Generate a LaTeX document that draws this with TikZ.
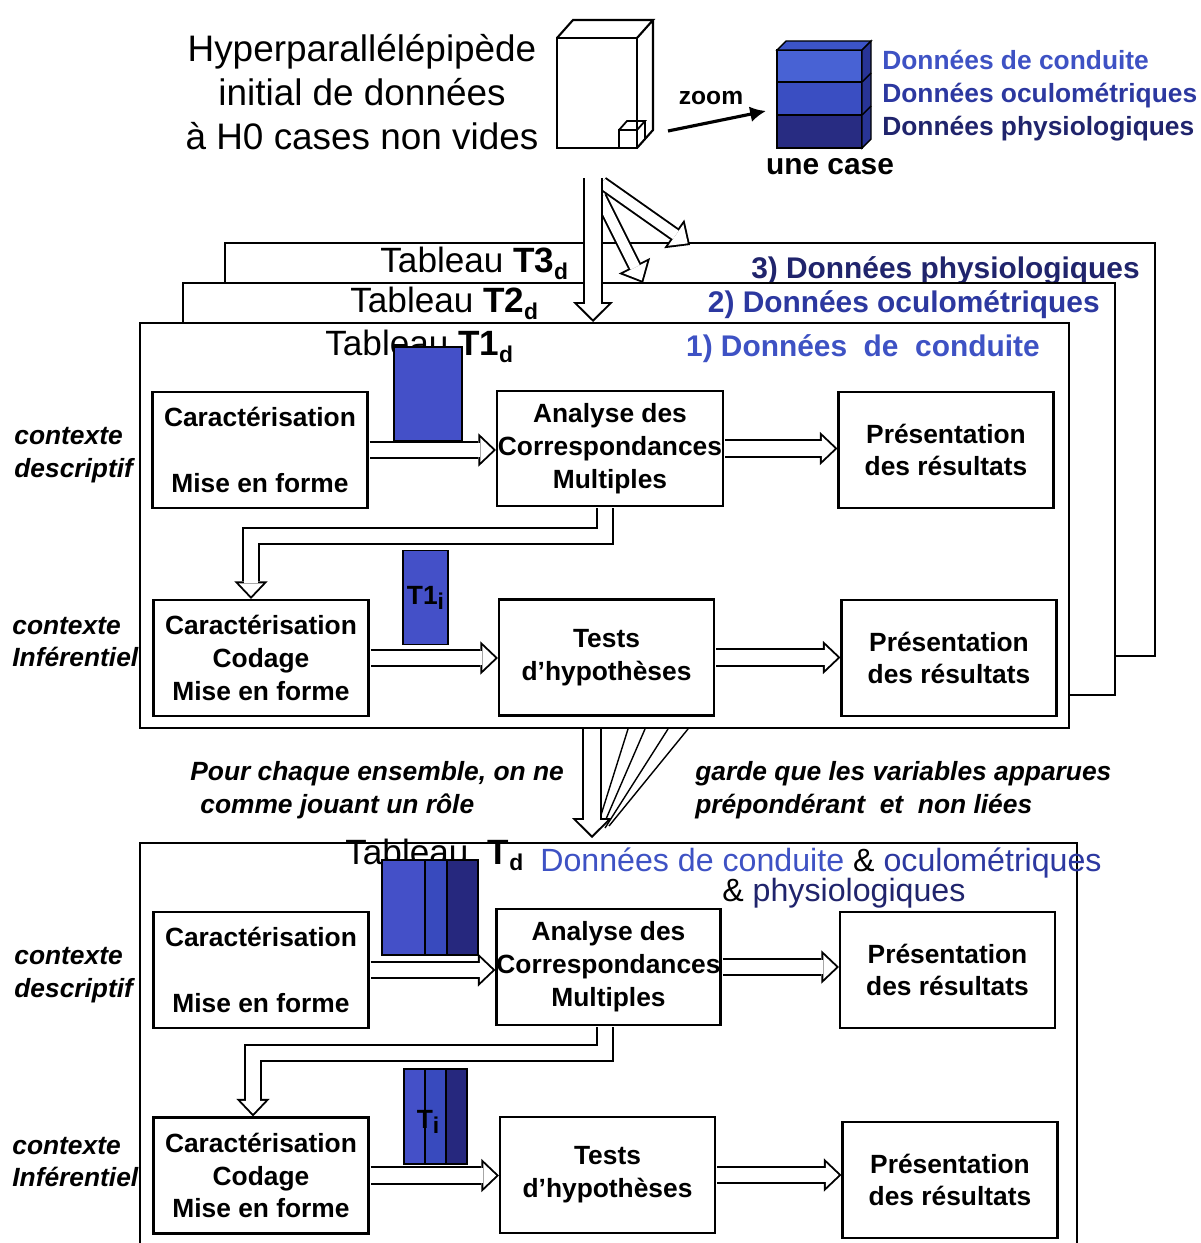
\documentclass[tikz,border=0pt]{standalone}
\usepackage{fontspec}
\setmainfont{Liberation Sans}
\usetikzlibrary{arrows.meta}

\definecolor{conduite}{RGB}{62,82,196}
\definecolor{oculo}{RGB}{44,56,160}
\definecolor{physio}{RGB}{32,36,108}
\definecolor{layerA}{RGB}{72,98,212}
\definecolor{layerB}{RGB}{58,78,194}
\definecolor{layerC}{RGB}{40,44,130}
\definecolor{cubetop}{RGB}{60,84,200}
\definecolor{cubeside}{RGB}{40,52,150}
\definecolor{tabA}{RGB}{68,80,200}
\definecolor{tabB}{RGB}{56,74,190}
\definecolor{tabC}{RGB}{38,40,126}

\newcommand\setfs[2]{\fontsize{#1}{#2}\selectfont}
\newcommand\subd[1]{\raisebox{-0.35ex}{\setfs{13}{13}\bfseries #1}}

\begin{document}
\begin{tikzpicture}[
    x=0.02cm, y=-0.02cm,
    box/.style={draw, line width=1.2pt, fill=white, align=center, inner sep=0pt,
        font=\setfs{15}{18.7}\bfseries, minimum width=4.3cm, minimum height=2.32cm},
    panel/.style={draw, line width=1.2pt, fill=white},
    tab/.style={anchor=base west, inner sep=0pt, font=\setfs{20}{24}},
    datum/.style={anchor=base east, inner sep=0pt, font=\setfs{17}{20}\bfseries},
    legend/.style={anchor=base west, inner sep=0pt, font=\setfs{15}{18}\bfseries},
    ctx/.style={anchor=west, align=left, inner sep=0pt, font=\setfs{15}{18.5}\bfseries\itshape},
    block/.style={draw, line width=1pt},
    hollow/.style={line width=10.5pt, shorten <=0.6pt,
        -{Triangle[length=10pt, width=19pt, line width=0pt]},
        postaction={draw=white, line width=8.3pt, shorten >=1.6pt,
            -{Triangle[length=7.3pt, width=13.9pt, line width=0pt]}}},
    fat/.style={line width=11.3pt,
        -{Triangle[length=11.3pt, width=22.7pt, line width=0pt]},
        postaction={draw=white, line width=9.1pt, shorten >=1.6pt,
            -{Triangle[length=8.6pt, width=17.3pt, line width=0pt]}}},
    slim/.style={line width=8pt,
        -{Triangle[length=11pt, width=20pt, line width=0pt]},
        postaction={draw=white, line width=5.8pt, shorten >=1.6pt,
            -{Triangle[length=8.3pt, width=15pt, line width=0pt]}}}
]
\useasboundingbox (0,0) rectangle (1200,1243);

% initial hyperparallelepiped
\node[align=center, inner sep=0pt, font=\setfs{21}{24.9}] (hyper) at (362,92)
    {Hyperparallélépipède\\initial de données\\à H0 cases non vides};
\draw[line width=1.2pt, fill=white] (557,38) rectangle (637,148);
\draw[line width=1.2pt] (557,38) -- (573,20) -- (653,20) -- (637,38)
    (653,20) -- (653,130) -- (637,148);
\draw[line width=1pt] (619,130) rectangle (637,148)
    (619,130) -- (627,121) -- (645,121) -- (637,130)
    (645,121) -- (645,139);

% zoom on one cell
\coordinate (zoomfrom) at (668,131);
\coordinate (zoomto) at (766,111);
\draw[line width=1.8pt, -{Latex[length=9pt, width=9pt]}] (zoomfrom) -- (zoomto);
\node[anchor=base, inner sep=0pt, font=\setfs{14}{16}\bfseries] (zoomlbl) at (711,105) {zoom};

\filldraw[fill=layerA, line width=0.8pt] (777,50) rectangle (862,82);
\filldraw[fill=layerB, line width=0.8pt] (777,82) rectangle (862,115);
\filldraw[fill=layerC, line width=0.8pt] (777,115) rectangle (862,148);
\filldraw[fill=cubetop, line width=0.8pt] (777,50) -- (786,41) -- (871,41) -- (862,50) -- cycle;
\filldraw[fill=cubeside, line width=0.8pt] (862,50) -- (871,41) -- (871,139) -- (862,148) -- cycle;
\draw[line width=0.8pt] (862,82) -- (871,73) (862,115) -- (871,106);
\node[legend, text=conduite] (legc) at (882,70) {Données de conduite};
\node[legend, text=oculo] (lego) at (882,103) {Données oculométriques};
\node[legend, text=physio] (legp) at (882,136) {Données physiologiques};
\node[anchor=base, inner sep=0pt, font=\setfs{17}{20}\bfseries] (case) at (830,175) {une case};

% stacked tables T3, T2, T1
\draw[panel] (225,243) rectangle (1155,656);
\node[tab] (tab3) at (380,273) {Tableau \textbf{T3}\subd{d}};
\node[datum, text=physio] (dat3) at (1140,278) {3) Données physiologiques};
\draw[panel] (183,283) rectangle (1115,695);
\node[tab] (tab2) at (350,313) {Tableau \textbf{T2}\subd{d}};
\node[datum, text=oculo] (dat2) at (1100,313) {2) Données oculométriques};
\draw[panel] (140,323) rectangle (1069,728);
\node[tab] (tab1) at (325,356) {Tableau \textbf{T1}\subd{d}};
\node[datum, text=conduite] (dat1) at (1040,357) {1) Données~ de~ conduite};
\filldraw[block, fill=tabA] (394,347) rectangle (462,441);
\node[block, fill=tabA, minimum width=0.9cm, minimum height=1.88cm, inner sep=0pt,
    font=\setfs{15}{18}\bfseries] (t1i) at (425.5,597.5) {T1\subd{i}};

\node[ctx] (ctx1) at (14,455) {contexte\\descriptif};
\node[ctx] (ctx2) at (12,642) {contexte\\Inférentiel};

\node[box] (car1) at (260,450) {Caractérisation\\[18.7pt]Mise en forme};
\node[box, minimum width=4.52cm, minimum height=2.3cm] (acm1) at (610,448.5)
    {Analyse des\\Correspondances\\Multiples};
\node[box] (pres1) at (946,450) {Présentation\\des résultats};
\node[box] (car2) at (261,658) {Caractérisation\\Codage\\Mise en forme};
\node[box] (tests1) at (606.5,657.5) {Tests\\d'hypothèses};
\node[box] (pres2) at (949,658) {Présentation\\des résultats};

\draw[hollow] (car1.east) -- (car1.east -| acm1.west);
\draw[hollow] (acm1.east) -- (acm1.east -| pres1.west);
\draw[hollow] ([xshift=-0.1cm]acm1.south) -- ++(0,29) -| ([xshift=-0.2cm]car2.north);
\draw[hollow] (car2.east) -- (car2.east -| tests1.west);
\draw[hollow] (tests1.east) -- (tests1.east -| pres2.west);

% arrows from the hyperparallelepiped
\coordinate (stem) at (593,178);
\coordinate (stemtip) at (593,322);
\coordinate (fanA) at (602,183);
\coordinate (fanAtip) at (690,245);
\coordinate (fanB) at (600,197);
\coordinate (fanBtip) at (643,283);
\draw[slim] (fanA) -- (fanAtip);
\draw[slim] (fanB) -- (fanBtip);
\draw[fat] (stem) -- (stemtip);

% selection of variables
\coordinate (linkA) at (592,729);
\coordinate (linkB) at (592,838);
\coordinate (f1) at (628,729);
\coordinate (f2) at (645,729);
\coordinate (f3) at (668,729);
\coordinate (f4) at (688,729);
\coordinate (g1) at (601,815);
\coordinate (g2) at (603,826);
\coordinate (g3) at (605,828);
\coordinate (g4) at (609,826);
\draw[line width=0.8pt] (f1) -- (g1) (f2) -- (g2) (f3) -- (g3) (f4) -- (g4);
\draw[fat] (linkA) -- (linkB);
\node[ctx] (note1) at (190,790) {Pour chaque ensemble, on ne\\\hspace*{0.2cm}comme jouant un rôle};
\node[ctx] (note2) at (695,790) {garde que les variables apparues\\prépondérant~ et~ non liées};

% merged table Td
\draw[line width=1.2pt] (140,1260) |- (1077,843) -- (1077,1260);
\node[tab] (tabd) at (345,864) {Tableau~ \textbf{T}\subd{d}};
\node[anchor=base west, inner sep=0pt, font=\setfs{18.3}{21}] (datall) at (540,871)
    {\textcolor{conduite}{Données de conduite} \& \textcolor{oculo}{oculométriques}};
\node[anchor=base west, inner sep=0pt, font=\setfs{18.3}{21}] (datphy) at (722,901)
    {\& \textcolor{physio}{physiologiques}};
\filldraw[block, fill=tabA] (382,860) rectangle (425,955);
\filldraw[block, fill=tabB] (425,860) rectangle (447,955);
\filldraw[block, fill=tabC] (447,860) rectangle (478,955);
\filldraw[block, fill=tabA] (404,1069) rectangle (425,1164);
\filldraw[block, fill=tabB] (425,1069) rectangle (446,1164);
\filldraw[block, fill=tabC] (446,1069) rectangle (467,1164);
\node[inner sep=0pt, font=\setfs{15}{18}\bfseries] (ti) at (428,1122) {T\subd{i}};

\node[ctx] (ctx3) at (14,975) {contexte\\descriptif};
\node[ctx] (ctx4) at (12,1162) {contexte\\Inférentiel};

\node[box] (car3) at (261,970) {Caractérisation\\[18.7pt]Mise en forme};
\node[box, minimum width=4.42cm] (acm2) at (608.5,967)
    {Analyse des\\Correspondances\\Multiples};
\node[box] (pres3) at (947.5,970) {Présentation\\des résultats};
\node[box] (car4) at (261,1175.5) {Caractérisation\\Codage\\Mise en forme};
\node[box] (tests2) at (607.5,1175) {Tests\\d'hypothèses};
\node[box] (pres4) at (950,1180) {Présentation\\des résultats};

\draw[hollow] (car3.east) -- (car3.east -| acm2.west);
\draw[hollow] (acm2.east) -- (acm2.east -| pres3.west);
\draw[hollow] ([xshift=-0.07cm]acm2.south) -- ++(0,27) -| ([xshift=-0.16cm]car4.north);
\draw[hollow] (car4.east) -- (car4.east -| tests2.west);
\draw[hollow] (tests2.east) -- (tests2.east -| pres4.west);
\end{tikzpicture}
\end{document}
